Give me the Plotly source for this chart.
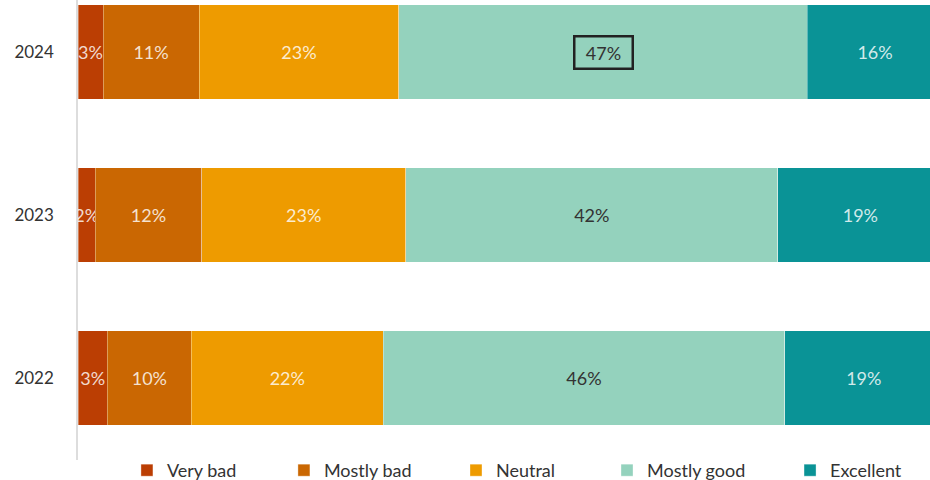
import plotly.graph_objects as go

years = ["2022", "2023", "2024"]
categories = ["Very bad", "Mostly bad", "Neutral", "Mostly good", "Excellent"]
colors = ["#BB3E03", "#CA6702", "#EE9B00", "#94D2BD", "#0A9396"]
text_colors = ["rgba(255,255,255,0.82)", "rgba(255,255,255,0.82)", "rgba(255,255,255,0.82)",
               "#333333", "rgba(255,255,255,0.82)"]

# shares (%) per category, order: 2022, 2023, 2024
very_bad = [3.4, 2.0, 2.9]
mostly_bad = [9.7, 12.3, 11.1]
neutral = [22.2, 23.6, 23.1]
mostly_good = [46.4, 43.0, 47.2]
excellent = [18.3, 19.1, 15.7]

# published (rounded) labels
very_bad_lbl = ["3%", "2%", "3%"]
mostly_bad_lbl = ["10%", "12%", "11%"]
neutral_lbl = ["22%", "23%", "23%"]
mostly_good_lbl = ["46%", "42%", ""]
excellent_lbl = ["19%", "19%", "16%"]

highlight_year = "2024"
highlight_label = "47%"

# legend entry left positions (container fraction)
legend_x = [0.1365, 0.3053, 0.4903, 0.6527, 0.8495]

series = [very_bad, mostly_bad, neutral, mostly_good, excellent]
labels = [very_bad_lbl, mostly_bad_lbl, neutral_lbl, mostly_good_lbl, excellent_lbl]

FONT = "Source Sans Pro, Lato, sans-serif"

fig = go.Figure()
legend_layout = {}
for i, (name, vals, lbl, col, tcol) in enumerate(zip(categories, series, labels, colors, text_colors)):
    lg = "legend" if i == 0 else f"legend{i+1}"
    fig.add_trace(go.Bar(
        y=years, x=vals, name=name, orientation="h", legend=lg,
        marker=dict(color=col, line=dict(color="rgba(255,255,255,0.35)", width=1)),
        text=lbl, textposition="inside", insidetextanchor="middle",
        textangle=0, constraintext="none",
        textfont=dict(family=FONT, size=18, color=tcol),
        hoverinfo="skip",
    ))
    legend_layout[lg] = dict(
        orientation="h", yref="paper", xref="container",
        x=legend_x[i], xanchor="left", y=-0.063, yanchor="bottom",
        font=dict(family=FONT, size=18, color="#333333"),
        itemwidth=30, bgcolor="rgba(0,0,0,0)",
    )

# highlighted label
hi = years.index(highlight_year)
hx = sum(s[hi] for s in series[:3]) + mostly_good[hi] / 2
fig.add_annotation(
    x=hx, y=hi, xref="x", yref="y", text=highlight_label, showarrow=False,
    font=dict(family=FONT, size=18, color="#333333"),
    bordercolor="#222222", borderwidth=2.5, borderpad=3, width=50, height=24,
)

fig.update_layout(
    width=930, height=480,
    margin=dict(l=78, r=0, t=0, b=20, autoexpand=False),
    barmode="stack", bargap=0.423,
    plot_bgcolor="white", paper_bgcolor="white",
    font=dict(family=FONT, size=18, color="#333333"),
    xaxis=dict(range=[0, 98.5], visible=False, fixedrange=True, automargin=False),
    yaxis=dict(type="category", range=[-0.503, 2.319], showline=True,
               linecolor="#dddddd", linewidth=1.5, showgrid=False,
               ticks="", ticklabelstandoff=19, automargin=False,
               tickfont=dict(family=FONT, size=17, color="#333333")),
    showlegend=True,
    **legend_layout,
)

fig.write_html("out.html", config={"displayModeBar": False},
               post_script="document.body.style.margin='0';document.body.style.overflow='hidden';")
